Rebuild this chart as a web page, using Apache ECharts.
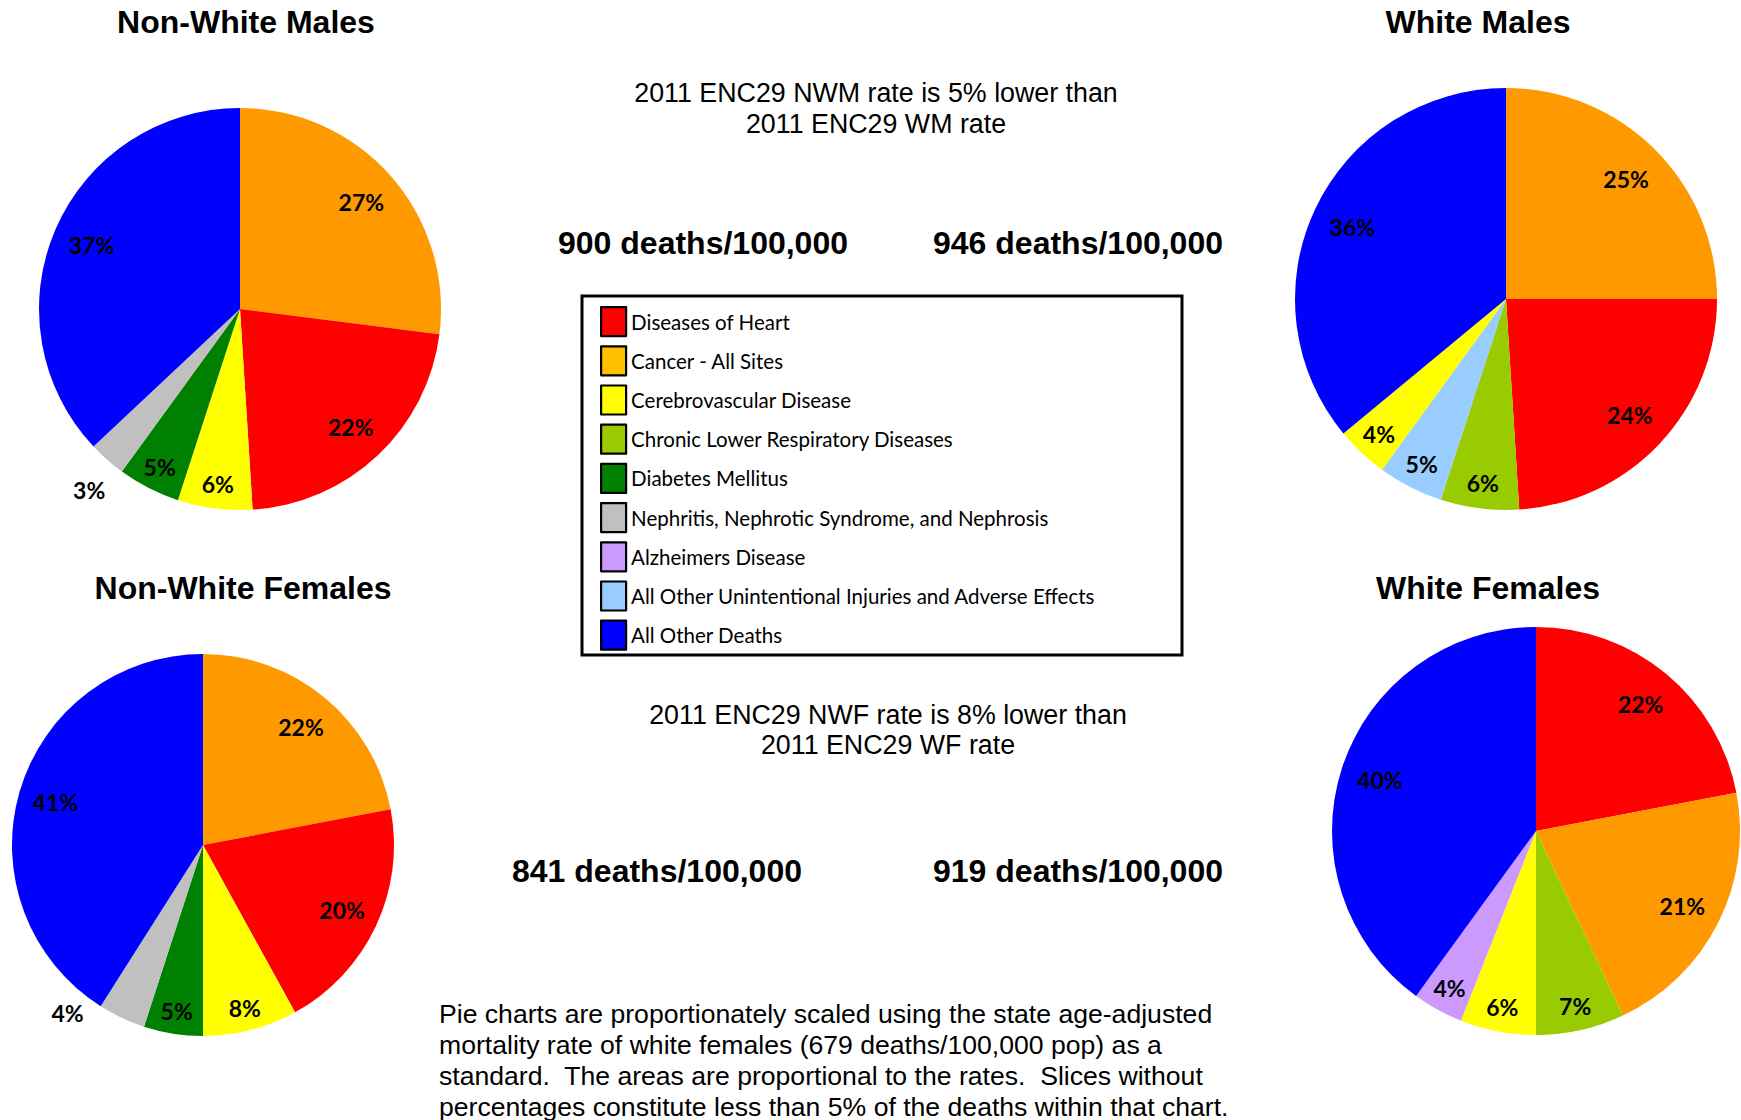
<!DOCTYPE html>
<html><head><meta charset="utf-8">
<script src="https://cdn.jsdelivr.net/npm/echarts@6/dist/echarts.min.js"></script>
<style>html,body{margin:0;padding:0;background:#fff}#c{width:1741px;height:1120px}</style>
</head><body><div id="c"></div>
<script>
// ---------------- DATA ----------------
const categories = [
  'Diseases of Heart',
  'Cancer - All Sites',
  'Cerebrovascular Disease',
  'Chronic Lower Respiratory Diseases',
  'Diabetes Mellitus',
  'Nephritis, Nephrotic Syndrome, and Nephrosis',
  'Alzheimers Disease',
  'All Other Unintentional Injuries and Adverse Effects',
  'All Other Deaths'
];
const chartTitles = ['Non-White Males', 'White Males', 'Non-White Females', 'White Females'];
const rates = [900, 946, 841, 919]; // deaths per 100,000

const nwmSlices = ['Cancer - All Sites', 'Diseases of Heart', 'Cerebrovascular Disease', 'Diabetes Mellitus',
  'Nephritis, Nephrotic Syndrome, and Nephrosis', 'All Other Deaths'];
const nwmValues = [27, 22, 6, 5, 3, 37];

const wmSlices = ['Cancer - All Sites', 'Diseases of Heart', 'Chronic Lower Respiratory Diseases',
  'All Other Unintentional Injuries and Adverse Effects', 'Cerebrovascular Disease', 'All Other Deaths'];
const wmValues = [25, 24, 6, 5, 4, 36];

const nwfSlices = ['Cancer - All Sites', 'Diseases of Heart', 'Cerebrovascular Disease', 'Diabetes Mellitus',
  'Nephritis, Nephrotic Syndrome, and Nephrosis', 'All Other Deaths'];
const nwfValues = [22, 20, 8, 5, 4, 41];

const wfSlices = ['Diseases of Heart', 'Cancer - All Sites', 'Chronic Lower Respiratory Diseases',
  'Cerebrovascular Disease', 'Alzheimers Disease', 'All Other Deaths'];
const wfValues = [22, 21, 7, 6, 4, 40];

const comparisonNotes = [
  '2011 ENC29 NWM rate is 5% lower than\n2011 ENC29 WM rate',
  '2011 ENC29 NWF rate is 8% lower than\n2011 ENC29 WF rate'
];
const footnote = 'Pie charts are proportionately scaled using the state age-adjusted\n' +
  'mortality rate of white females (679 deaths/100,000 pop) as a\n' +
  'standard.  The areas are proportional to the rates.  Slices without\n' +
  'percentages constitute less than 5% of the deaths within that chart.';

// ---------------- STYLE ----------------
const pieColors = {
  'Diseases of Heart': '#FF0000',
  'Cancer - All Sites': '#FF9900',
  'Cerebrovascular Disease': '#FFFF00',
  'Chronic Lower Respiratory Diseases': '#99CC00',
  'Diabetes Mellitus': '#008000',
  'Nephritis, Nephrotic Syndrome, and Nephrosis': '#C0C0C0',
  'Alzheimers Disease': '#CC99FF',
  'All Other Unintentional Injuries and Adverse Effects': '#99CCFF',
  'All Other Deaths': '#0000FF'
};
const legendColors = Object.assign({}, pieColors, {'Cancer - All Sites': '#FFC000'});

const charts = [
  {names: nwmSlices, values: nwmValues, cx: 240, cy: 309, r: 201, tx: 246, ty: 22,
    outside: ['Nephritis, Nephrotic Syndrome, and Nephrosis'], outOffset: [2, 8]},
  {names: wmSlices, values: wmValues, cx: 1506, cy: 299, r: 211, tx: 1478, ty: 22, outside: [], outOffset: [0, 0]},
  {names: nwfSlices, values: nwfValues, cx: 203, cy: 845, r: 191, tx: 243, ty: 588,
    outside: ['Nephritis, Nephrotic Syndrome, and Nephrosis'], outOffset: [-42, -31]},
  {names: wfSlices, values: wfValues, cx: 1536, cy: 831, r: 204, tx: 1488, ty: 588, outside: [], outOffset: [0, 0]}
];

const ARIAL = '"Liberation Sans", Arial, sans-serif';
const labelStyle = {
  position: 'inside', color: '#000', fontFamily: 'Lato', fontWeight: 'bold', fontSize: 23,
  formatter: p => p.value + '%'
};

const series = [];
charts.forEach(c => {
  series.push({
    type: 'pie', center: [c.cx, c.cy], radius: [0, c.r], startAngle: 90, clockwise: true,
    silent: true, animation: false, emphasis: {disabled: true},
    label: {show: false}, labelLine: {show: false},
    itemStyle: {borderWidth: 0},
    data: c.names.map((n, i) => ({name: n, value: c.values[i], itemStyle: {color: pieColors[n]}}))
  });
});
function overlay(c, r0, r1, pick, offset) {
  return {
    type: 'pie', center: [c.cx, c.cy], radius: [r0, r1], startAngle: 90, clockwise: true,
    silent: true, animation: false, avoidLabelOverlap: false, emphasis: {disabled: true},
    labelLine: {show: false}, itemStyle: {borderWidth: 0, color: 'rgba(0,0,0,0)'},
    label: Object.assign({}, labelStyle, offset ? {offset: offset} : {}),
    data: c.names.map((n, i) => ({
      name: n, value: c.values[i], itemStyle: {color: 'rgba(0,0,0,0)'},
      label: {show: pick(n, c.values[i])}
    }))
  };
}
charts.forEach(c => {
  const isOut = n => c.outside.indexOf(n) >= 0;
  series.push(overlay(c, 2 * (0.805 * c.r - 3) - c.r, c.r, (n, v) => !isOut(n) && v >= 10));
  series.push(overlay(c, 2 * (0.88 * c.r - 3) - c.r, c.r, (n, v) => !isOut(n) && v < 10));
  series.push(overlay(c, c.r, 1.30 * c.r - 6, (n) => isOut(n), c.outOffset));
});

const graphic = [
  {type: 'rect', z: 0, shape: {x: 582, y: 296, width: 600, height: 359},
    style: {fill: '#fff', stroke: '#000', lineWidth: 3}}
];
function txt(text, x, y, font, align, extra) {
  return {type: 'text', x: x, y: y, z: 5,
    style: Object.assign({text: text, font: font, fill: '#000', textAlign: align || 'center',
      textVerticalAlign: 'middle', align: align || 'center', verticalAlign: 'middle'}, extra || {})};
}
charts.forEach((c, k) => graphic.push(txt(chartTitles[k], c.tx, c.ty, 'bold 32px ' + ARIAL)));
graphic.push(txt(comparisonNotes[0], 876, 108, '26.8px ' + ARIAL, 'center', {lineHeight: 31}));
graphic.push(txt(comparisonNotes[1], 888, 730, '26.8px ' + ARIAL, 'center', {lineHeight: 30}));
graphic.push(txt(rates[0] + ' deaths/100,000', 703, 243, 'bold 32px ' + ARIAL));
graphic.push(txt(rates[1] + ' deaths/100,000', 1078, 243, 'bold 32px ' + ARIAL));
graphic.push(txt(rates[2] + ' deaths/100,000', 657, 871, 'bold 32px ' + ARIAL));
graphic.push(txt(rates[3] + ' deaths/100,000', 1078, 871, 'bold 32px ' + ARIAL));
graphic.push(txt(footnote, 439, 1060, '26.6px ' + ARIAL, 'left', {lineHeight: 31}));

const chart = echarts.init(document.getElementById('c'), null, {renderer: 'svg'});
chart.setOption({
  animation: false,
  backgroundColor: '#fff',
  legend: {
    orient: 'vertical', left: 600, top: 306, padding: 0, z: 10,
    itemWidth: 25, itemHeight: 29, itemGap: 8, icon: 'rect', selectedMode: false,
    textStyle: {fontFamily: 'Lato', fontSize: 20.5, color: '#000'},
    data: categories.map(n => ({name: n, itemStyle: {color: legendColors[n], borderColor: '#000', borderWidth: 2.2}}))
  },
  graphic: graphic,
  series: series
});
</script></body></html>
